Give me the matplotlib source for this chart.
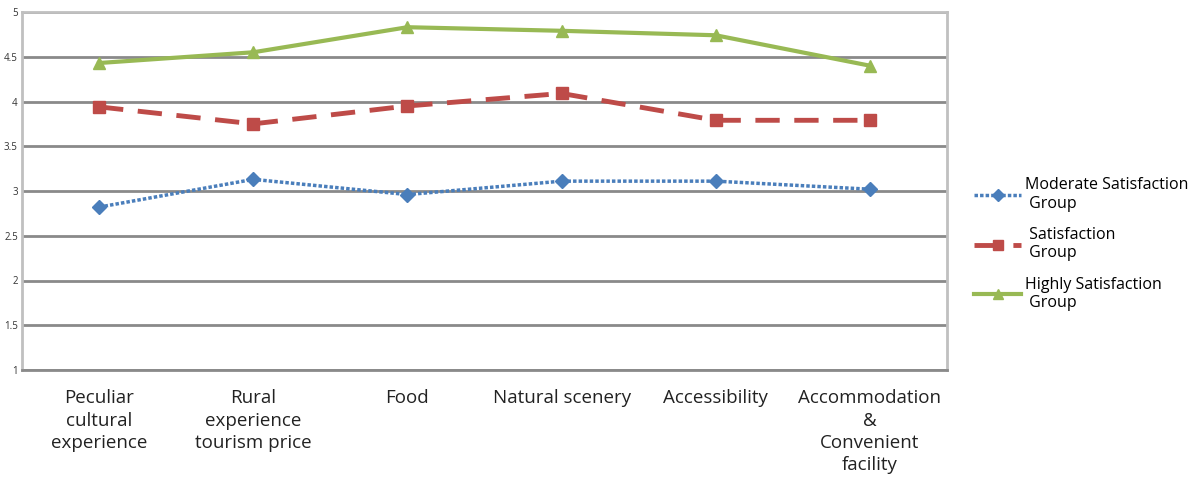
import numpy as np
import matplotlib.pyplot as plt

categories = ["Peculiar\ncultural\nexperience", "Rural\nexperience\ntourism price", "Food",
              "Natural scenery", "Accessibility", "Accommodation\n&\nConvenient\nfacility"]
moderate = [2.82, 3.13, 2.96, 3.11, 3.11, 3.02]
satisfied = [3.94, 3.75, 3.95, 4.09, 3.79, 3.79]
highly = [4.43, 4.55, 4.83, 4.79, 4.74, 4.40]
yticks = [1, 1.5, 2, 2.5, 3, 3.5, 4, 4.5, 5]

plt.rcParams['font.family'] = ['Open Sans', 'DejaVu Sans']

fig = plt.figure(figsize=(11.93, 4.79), dpi=100)
ax = fig.add_axes([22/1193, 1-370/479, (947-22)/1193, (370-12)/479])

x = np.arange(len(categories))
ax.plot(x, moderate, color='#4a7ebb', lw=2.5, ls=(0, (1, 0.6)), marker='D', ms=7,
        label="Moderate Satisfaction\n Group")
ax.plot(x, satisfied, color='#be4b48', lw=3.5, ls=(0, (5, 3)), marker='s', ms=8.5,
        label=" Satisfaction\n Group")
ax.plot(x, highly, color='#98b954', lw=3, marker='^', ms=9,
        label="Highly Satisfaction\n Group")

ax.set_xlim(-0.5, len(categories) - 0.5)
ax.set_ylim(1, 5)
ax.set_yticks(yticks)
ax.set_yticklabels([f"{v:g}" for v in yticks], fontsize=7, color='#333333')
ax.set_xticks(x)
ax.set_xticklabels(categories, fontsize=13.5, color='#222222', linespacing=1.3, va='top')
ax.tick_params(axis='both', length=0)
ax.tick_params(axis='x', pad=14)
ax.tick_params(axis='y', pad=3)

ax.grid(axis='y', color='#8a8a8a', lw=2)
ax.set_axisbelow(True)
for s in ['top', 'right', 'left']:
    ax.spines[s].set_color('#c0c0c0')
    ax.spines[s].set_linewidth(2)
ax.spines['bottom'].set_color('#8a8a8a')
ax.spines['bottom'].set_linewidth(2)

fig.legend(loc='upper left', bbox_to_anchor=(968/1193, 1-171/479), frameon=False,
           fontsize=11.5, handlelength=2.9, labelspacing=0.95, handletextpad=0.25,
           borderaxespad=0, markerscale=0.85)

fig.savefig('out.png', dpi=100)
